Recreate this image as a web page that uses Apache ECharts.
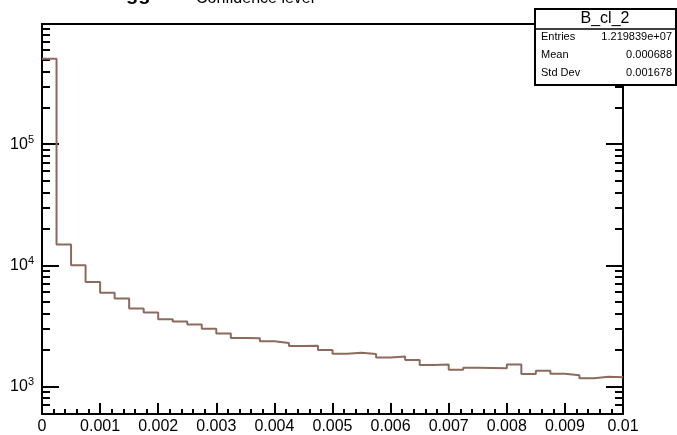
<!DOCTYPE html>
<html>
<head>
<meta charset="utf-8">
<script src="https://cdn.jsdelivr.net/npm/echarts@6/dist/echarts.min.js"></script>
<style>html,body{margin:0;padding:0;background:#fff;}#c{width:677px;height:435px;}</style>
</head>
<body>
<div id="c"></div>
<script>
// Bin edges (left) of the histogram, 40 bins of width 0.00025
var binWidth = 0.00025;
var binLefts = [0,0.00025,0.0005,0.00075,0.001,0.00125,0.0015,0.00175,0.002,0.00225,
  0.0025,0.00275,0.003,0.00325,0.0035,0.00375,0.004,0.00425,0.0045,0.00475,
  0.005,0.00525,0.0055,0.00575,0.006,0.00625,0.0065,0.00675,0.007,0.00725,
  0.0075,0.00775,0.008,0.00825,0.0085,0.00875,0.009,0.00925,0.0095,0.00975];
var counts = [509000,14880,10000,7300,5930,5320,4400,4080,3580,3430,
  3240,3000,2730,2510,2500,2360,2280,2160,2170,2000,
  1860,1900,1850,1730,1770,1650,1500,1520,1370,1425,
  1420,1410,1520,1265,1345,1275,1235,1170,1200,1190];
var xTickLabels = ['0','0.001','0.002','0.003','0.004','0.005','0.006','0.007','0.008','0.009','0.01'];
var yMajor = [1000,10000,100000];
var yMinor = [600,700,800,900,2000,3000,4000,5000,6000,7000,8000,9000,
  20000,30000,40000,50000,60000,70000,80000,90000,200000,300000,400000,500000,600000,700000,800000,900000];
var statsTitle = 'B_cl_2';
var statsNames = ['Entries','Mean','Std Dev'];
var statsValues = ['1.219839e+07','0.000688','0.001678'];

var yMin = 592, yMax = 984000;
var FONT = 'Liberation Sans, Arial, Helvetica, sans-serif';

var stepData = binLefts.map(function(x,i){return [x, counts[i]];});
stepData.push([binLefts[binLefts.length-1]+binWidth, counts[counts.length-1]]);

function yAxisDef(pos, vals, len, labels){
  return {
    type:'log', position:pos, min:yMin, max:yMax, logBase:10,
    axisLine:{show:true, lineStyle:{color:'#000', width:2}},
    splitLine:{show:false},
    axisTick:{show:true, inside:true, length:len, customValues:vals, lineStyle:{color:'#000', width:2}},
    axisLabel:{show:labels, customValues:vals, margin:8, fontFamily:FONT, color:'#000',
      formatter:function(v){return '{b|10}{s|'+Math.round(Math.log10(v))+'}';},
      rich:{b:{fontSize:16, fontFamily:FONT, color:'#000'}, s:{fontSize:11, fontFamily:FONT, color:'#000', padding:[0,0,9,0]}}}
  };
}

var Z = 100;
var chart = echarts.init(document.getElementById('c'), null, {renderer:'canvas'});
chart.setOption({
  animation:false,
  backgroundColor:'#fff',
  grid:{left:42, right:54, top:24, bottom:19, show:true, borderColor:'#000', borderWidth:2, backgroundColor:'transparent'},
  xAxis:{
    type:'value', min:0, max:0.01, interval:0.001,
    axisLine:{show:true, onZero:false, lineStyle:{color:'#000', width:2}},
    splitLine:{show:false},
    axisTick:{show:true, inside:true, length:11, lineStyle:{color:'#000', width:2}},
    minorTick:{show:true, splitNumber:5, length:5, lineStyle:{color:'#000', width:2}},
    axisLabel:{margin:5, fontSize:16, fontFamily:FONT, color:'#000',
      formatter:function(v){
        var i = Math.round(v/0.001);
        return xTickLabels[i] !== undefined ? xTickLabels[i] : '';
      }}
  },
  yAxis:[
    yAxisDef('left', yMajor, 17, true),
    yAxisDef('left', yMinor, 8, false),
    yAxisDef('right', yMajor, 17, false),
    yAxisDef('right', yMinor, 8, false)
  ],
  series:[{
    type:'line', step:'end', data:stepData, yAxisIndex:0, symbol:'none',
    lineStyle:{color:'#8c6b5e', width:2}, clip:true, z:1
  }],
  graphic:[
    {type:'text', x:126, y:4, z:Z, style:{text:'gg', font:'bold 20px '+FONT, fill:'#000', verticalAlign:'bottom'}},
    {type:'text', x:196, y:7, z:Z, style:{text:'Confidence level', font:'16px '+FONT, fill:'#000', verticalAlign:'bottom'}},
    {type:'rect', z:Z, shape:{x:535,y:9,width:141,height:76}, style:{fill:'#fff', stroke:'#000', lineWidth:2}},
    {type:'line', z:Z+1, shape:{x1:535,y1:29,x2:676,y2:29}, style:{stroke:'#000', lineWidth:1.5}},
    {type:'text', z:Z+1, x:605, y:19, style:{text:statsTitle, font:'16px '+FONT, fill:'#000', align:'center', verticalAlign:'middle'}},
    {type:'text', z:Z+1, x:541, y:37, style:{text:statsNames[0], font:'11px '+FONT, fill:'#000', verticalAlign:'middle'}},
    {type:'text', z:Z+1, x:541, y:55, style:{text:statsNames[1], font:'11px '+FONT, fill:'#000', verticalAlign:'middle'}},
    {type:'text', z:Z+1, x:541, y:73, style:{text:statsNames[2], font:'11px '+FONT, fill:'#000', verticalAlign:'middle'}},
    {type:'text', z:Z+1, x:672, y:37, style:{text:statsValues[0], font:'11px '+FONT, fill:'#000', align:'right', verticalAlign:'middle'}},
    {type:'text', z:Z+1, x:672, y:55, style:{text:statsValues[1], font:'11px '+FONT, fill:'#000', align:'right', verticalAlign:'middle'}},
    {type:'text', z:Z+1, x:672, y:73, style:{text:statsValues[2], font:'11px '+FONT, fill:'#000', align:'right', verticalAlign:'middle'}}
  ]
});
</script>
</body>
</html>
